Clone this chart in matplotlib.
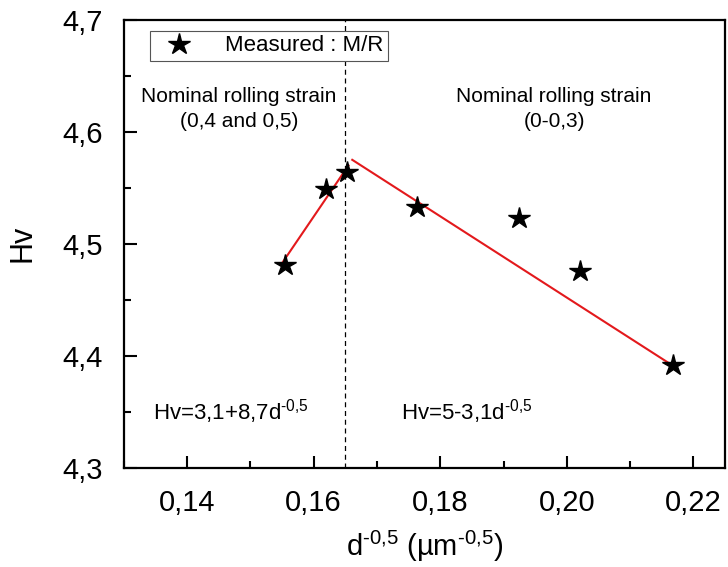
import numpy as np
import matplotlib
matplotlib.use("Agg")
import matplotlib.pyplot as plt
from matplotlib.ticker import MultipleLocator, FixedLocator

plt.rcParams['font.family'] = ['Liberation Sans', 'DejaVu Sans']
plt.rcParams['mathtext.fontset'] = 'custom'
plt.rcParams['mathtext.rm'] = 'Liberation Sans'
plt.rcParams['mathtext.it'] = 'Liberation Sans:italic'

# measured points
d_inv = [0.1555, 0.1620, 0.1653, 0.1764, 0.1925, 0.2020, 0.2168]
hv = [4.481, 4.549, 4.564, 4.533, 4.523, 4.476, 4.392]

# fitted lines (end points)
fit1_x = [0.1548, 0.1655]
fit1_y = [4.481, 4.570]
fit2_x = [0.1661, 0.2168]
fit2_y = [4.575, 4.391]

split_x = 0.165

x_ticks = [0.14, 0.16, 0.18, 0.20, 0.22]
x_labels = ['0,14', '0,16', '0,18', '0,20', '0,22']
y_ticks = [4.3, 4.4, 4.5, 4.6, 4.7]
y_labels = ['4,3', '4,4', '4,5', '4,6', '4,7']

sup = r'$^{\text{-0,5}}$'

fig = plt.figure(figsize=(7.28, 5.67), dpi=100)
ax = fig.add_axes([0.170, 0.175, 0.826, 0.790])

ax.plot(fit1_x, fit1_y, color='#e3191c', lw=1.5, zorder=2)
ax.plot(fit2_x, fit2_y, color='#e3191c', lw=1.5, zorder=2)
ax.plot(d_inv, hv, ls='none', marker='*', ms=16, color='black',
        label='Measured : M/R', zorder=3)
ax.axvline(split_x, color='black', ls=(0, (4, 3)), lw=0.9, zorder=1)

ax.set_xlim(0.13, 0.225)
ax.set_ylim(4.3, 4.7)
ax.xaxis.set_major_locator(FixedLocator(x_ticks))
ax.set_xticklabels(x_labels)
ax.xaxis.set_minor_locator(MultipleLocator(0.01))
ax.yaxis.set_major_locator(FixedLocator(y_ticks))
ax.set_yticklabels(y_labels)
ax.yaxis.set_minor_locator(MultipleLocator(0.05))

ax.tick_params(which='major', direction='in', length=9, width=1.5,
               labelsize=21, pad=15)
ax.tick_params(which='minor', direction='in', length=5, width=1.5)
for s in ax.spines.values():
    s.set_linewidth(1.6)

ax.set_xlabel('d' + sup + ' (\u00b5m' + sup + ')', fontsize=21, labelpad=9)
ax.set_ylabel('Hv', fontsize=22, labelpad=18)

ax.text(0.1482, 4.620, 'Nominal rolling strain\n(0,4 and 0,5)', ha='center',
        va='center', fontsize=15, linespacing=1.4)
ax.text(0.198, 4.620, 'Nominal rolling strain\n(0-0,3)', ha='center',
        va='center', fontsize=15, linespacing=1.4)
ax.text(0.1346, 4.350, 'Hv=3,1+8,7d' + sup, fontsize=16, va='center')
ax.text(0.1738, 4.350, 'Hv=5-3,1d' + sup, fontsize=16, va='center')

leg = ax.legend(loc='upper left', bbox_to_anchor=(0.043, 0.975),
                borderaxespad=0, fancybox=False, framealpha=1,
                edgecolor='#555555', fontsize=16, handletextpad=1.0,
                borderpad=0.2, handlelength=2.2)
leg.get_frame().set_linewidth(0.8)

fig.savefig('out.png', dpi=100)
